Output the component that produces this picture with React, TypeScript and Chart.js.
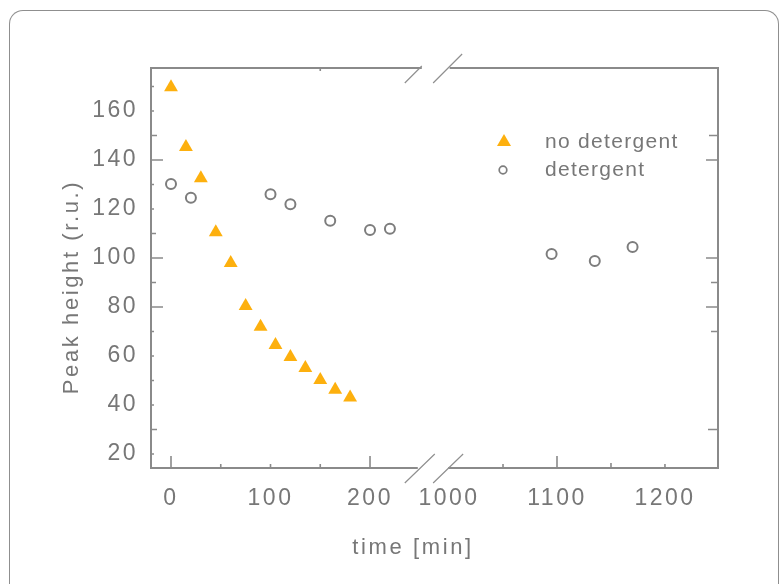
import { useEffect, useRef } from 'react';
import { Chart, registerables } from 'chart.js';

Chart.register(...registerables);

// ---- data ----
const NO_DET_TIME = [0, 15, 30, 45, 60, 75, 90, 105, 120, 135, 150, 165, 180];
const NO_DET_PEAK = [169.7, 145.3, 132.6, 110.5, 98.0, 80.4, 71.9, 64.5, 59.6, 55.1, 50.2, 46.2, 43.1];
const DET_TIME = [0, 20, 100, 120, 160, 200, 220, 1095, 1135, 1170];
const DET_PEAK = [130.2, 124.6, 126.0, 121.9, 115.2, 111.4, 111.9, 101.6, 98.8, 104.5];
const X_TICKS = [0, 100, 200, 1000, 1100, 1200];
const Y_TICKS = [20, 40, 60, 80, 100, 120, 140, 160];
const SERIES_LABELS = ['no detergent', 'detergent'];
const X_TITLE = 'time [min]';
const Y_TITLE = 'Peak height (r.u.)';

// ---- broken time axis: lower segment 0..~250, upper segment 1000.. ----
const UPPER_ORIGIN_TIME = 1000;
const UPPER_ORIGIN_AXIS = 279.4;
const UPPER_SCALE = 1.085;
const BREAK_LOW_END = 248;
const BREAK_HIGH_START = 278.5;
const toAxis = (t: number) =>
  t < 600 ? t : UPPER_ORIGIN_AXIS + (t - UPPER_ORIGIN_TIME) * UPPER_SCALE;

// ---- styles ----
const ORANGE = '#FDB00E';
const GREY = '#7d7d7d';
const AXIS_COLOR = '#8a8a8a';
const TEXT_COLOR = '#777777';
const FONT = "'Liberation Sans', Arial, Helvetica, sans-serif";

// tick marks: [time or value, length]
const BOTTOM_MARKS: [number, number][] = [
  [0, 12], [50, 4], [100, 4], [150, 4], [200, 12],
  [1050, 4], [1100, 12], [1150, 5], [1200, 4],
];
const TOP_MARKS: [number, number][] = [[150, 3]];
const LEFT_MARKS: [number, number][] = [
  [170, 3], [160, 3], [150, 6], [140, 12], [130, 3], [120, 3], [110, 5],
  [100, 12], [90, 5], [80, 12], [70, 3], [60, 3], [50, 3], [40, 3], [30, 6], [20, 3],
];
const RIGHT_MARKS: [number, number][] = [
  [150, 9], [140, 12], [100, 12], [90, 7], [80, 12], [70, 7], [30, 10],
];

const framePlugin = {
  id: 'brokenFrame',
  beforeDraw(chart: any) {
    chart.ctx.letterSpacing = '2.5px';
  },
  afterDraw(chart: any) {
    const { ctx, chartArea } = chart;
    const { left, right, top, bottom } = chartArea;
    const xs = chart.scales.x;
    const ys = chart.scales.y;
    const g1 = xs.getPixelForValue(BREAK_LOW_END);
    const g2 = xs.getPixelForValue(BREAK_HIGH_START);
    ctx.save();
    ctx.letterSpacing = '0px';
    ctx.strokeStyle = AXIS_COLOR;
    ctx.lineWidth = 2;
    ctx.beginPath();
    ctx.moveTo(left, top - 1); ctx.lineTo(left, bottom + 1);
    ctx.moveTo(right, top - 1); ctx.lineTo(right, bottom + 1);
    ctx.moveTo(left - 1, bottom); ctx.lineTo(g1, bottom);
    ctx.moveTo(g2, bottom); ctx.lineTo(right + 1, bottom);
    ctx.moveTo(left - 1, top); ctx.lineTo(g1 + 4, top);
    ctx.moveTo(g2 + 1.5, top); ctx.lineTo(right + 1, top);
    ctx.stroke();

    // tick marks
    ctx.lineWidth = 1.6;
    ctx.beginPath();
    for (const [t, len] of BOTTOM_MARKS) {
      const px = xs.getPixelForValue(toAxis(t));
      ctx.moveTo(px, bottom); ctx.lineTo(px, bottom - len);
    }
    for (const [t, len] of TOP_MARKS) {
      const px = xs.getPixelForValue(toAxis(t));
      ctx.moveTo(px, top); ctx.lineTo(px, top + len);
    }
    for (const [v, len] of LEFT_MARKS) {
      const py = ys.getPixelForValue(v);
      ctx.moveTo(left, py); ctx.lineTo(left + len, py);
    }
    for (const [v, len] of RIGHT_MARKS) {
      const py = ys.getPixelForValue(v);
      ctx.moveTo(right, py); ctx.lineTo(right - len, py);
    }
    ctx.stroke();

    // break marks
    ctx.lineWidth = 1.2;
    ctx.strokeStyle = '#909090';
    ctx.beginPath();
    ctx.moveTo(g1 - 13, bottom + 15); ctx.lineTo(g1 + 17, bottom - 14);
    ctx.moveTo(g2 - 15, bottom + 15); ctx.lineTo(g2 + 15, bottom - 14);
    ctx.moveTo(g1 - 13, top + 15); ctx.lineTo(g1 + 4, top - 2);
    ctx.moveTo(g2 - 15, top + 15); ctx.lineTo(g2 + 14, top - 14);
    ctx.stroke();

    // legend
    const lx = left + 353;
    const ly1 = top + 73;
    const ly2 = top + 102;
    ctx.fillStyle = ORANGE;
    ctx.beginPath();
    ctx.moveTo(lx, ly1 - 7);
    ctx.lineTo(lx + 7, ly1 + 5);
    ctx.lineTo(lx - 7, ly1 + 5);
    ctx.closePath();
    ctx.fill();
    ctx.strokeStyle = GREY;
    ctx.lineWidth = 1.7;
    ctx.beginPath();
    ctx.arc(lx - 1, ly2, 3.8, 0, Math.PI * 2);
    ctx.stroke();

    ctx.fillStyle = TEXT_COLOR;
    ctx.textBaseline = 'middle';
    ctx.textAlign = 'left';
    ctx.font = `21px ${FONT}`;
    ctx.letterSpacing = '1.3px';
    ctx.fillText(SERIES_LABELS[0], lx + 41, ly1 + 1);
    ctx.fillText(SERIES_LABELS[1], lx + 41, ly2);

    // axis titles
    ctx.font = `22px ${FONT}`;
    ctx.letterSpacing = '2.6px';
    ctx.textAlign = 'center';
    ctx.fillText(X_TITLE, left + 262, bottom + 80);
    ctx.translate(left - 79, top + 219);
    ctx.rotate(-Math.PI / 2);
    ctx.fillText(Y_TITLE, 0, 0);
    ctx.restore();
  },
};

export default function App() {
  const ref = useRef<HTMLCanvasElement | null>(null);

  useEffect(() => {
    if (!ref.current) return;
    const chart = new Chart(ref.current, {
      type: 'scatter',
      data: {
        datasets: [
          {
            label: SERIES_LABELS[0],
            data: NO_DET_TIME.map((t, i) => ({ x: toAxis(t), y: NO_DET_PEAK[i] })),
            pointStyle: 'triangle',
            pointRadius: 8,
            pointBackgroundColor: ORANGE,
            pointBorderColor: ORANGE,
            pointBorderWidth: 0,
            showLine: false,
          },
          {
            label: SERIES_LABELS[1],
            data: DET_TIME.map((t, i) => ({ x: toAxis(t), y: DET_PEAK[i] })),
            pointStyle: 'circle',
            pointRadius: 5,
            pointBackgroundColor: 'rgba(255,255,255,0)',
            pointBorderColor: GREY,
            pointBorderWidth: 2,
            showLine: false,
          },
        ],
      },
      options: {
        responsive: false,
        animation: false,
        events: [],
        layout: { padding: { top: 68, right: 61, left: 0, bottom: 0 } },
        plugins: {
          legend: { display: false },
          tooltip: { enabled: false },
          title: { display: false },
        },
        scales: {
          x: {
            type: 'linear',
            min: -20.1,
            max: 549.7,
            grid: { display: false, drawTicks: false },
            border: { display: false },
            afterFit: (s: any) => { s.height = 116; },
            afterBuildTicks: (s: any) => {
              s.ticks = X_TICKS.map((t) => ({ value: toAxis(t) }));
            },
            ticks: {
              autoSkip: false,
              maxRotation: 0,
              padding: 17,
              color: TEXT_COLOR,
              font: { size: 23, family: FONT },
              callback: (value: any) => {
                const i = X_TICKS.findIndex((t) => Math.abs(toAxis(t) - Number(value)) < 1e-6);
                return i >= 0 ? String(X_TICKS[i]) : '';
              },
            },
          },
          y: {
            type: 'linear',
            min: 14.29,
            max: 177.55,
            grid: { display: false, drawTicks: false },
            border: { display: false },
            afterFit: (s: any) => { s.width = 151; },
            afterBuildTicks: (s: any) => {
              s.ticks = Y_TICKS.map((v) => ({ value: v }));
            },
            ticks: {
              autoSkip: false,
              padding: 13,
              color: TEXT_COLOR,
              font: { size: 23, family: FONT },
            },
          },
        },
      },
      plugins: [framePlugin],
    });
    return () => chart.destroy();
  }, []);

  return (
    <>
      <div
        style={{
          position: 'absolute',
          left: 9,
          top: 10,
          width: 770,
          height: 574,
          boxSizing: 'border-box',
          border: '1px solid #8f8f8f',
          borderBottom: 'none',
          borderRadius: '14px 14px 0 0',
        }}
      />
      <canvas
        ref={ref}
        width={779}
        height={584}
        style={{ position: 'absolute', left: 0, top: 0, width: 779, height: 584 }}
      />
    </>
  );
}
